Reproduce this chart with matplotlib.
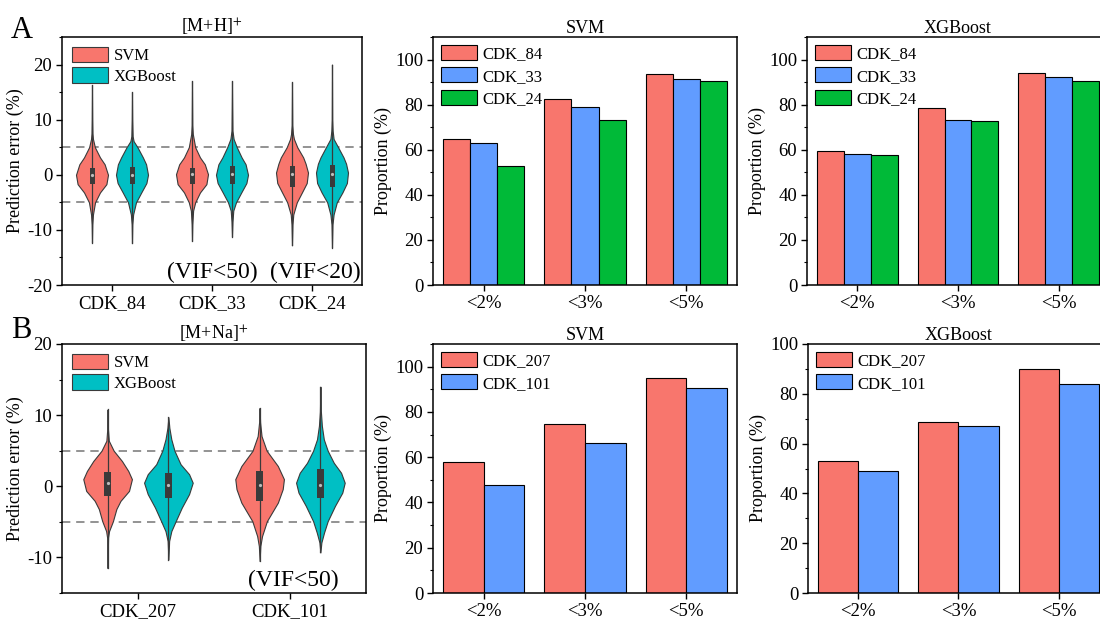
import numpy as np
import matplotlib
matplotlib.use("Agg")
import matplotlib.pyplot as plt
from matplotlib.patches import Patch, Rectangle
from matplotlib.ticker import MultipleLocator

plt.rcParams["font.family"] = ["Liberation Serif", "DejaVu Serif"]
plt.rcParams["mathtext.fontset"] = "stix"
plt.rcParams["font.size"] = 12
plt.rcParams["axes.unicode_minus"] = False

RED = "#F8766D"
BLUE = "#619CFF"
GREEN = "#00BA38"
CYAN = "#00BFC4"
DARK = "#3a3a3a"

# ---- violin data (value, relative half-width) ----
groups_A = ["CDK_84", "CDK_33", "CDK_24"]
groups_B = ["CDK_207", "CDK_101"]

svm_84 = [(-12.3, 0), (-9, 0.02), (-7.2, 0.06), (-5, 0.19), (-3.2, 0.5), (-1.7, 0.9), (0, 1.0),
          (1.9, 0.79), (3.15, 0.5), (5, 0.18), (6.5, 0.06), (7.5, 0.03), (10, 0.015), (16.3, 0)]
xgb_84 = [(-12.4, 0), (-9, 0.02), (-7.2, 0.07), (-5, 0.25), (-3.2, 0.58), (-1.5, 0.9), (0, 1.0),
          (1.9, 0.88), (3.15, 0.68), (5, 0.34), (6.1, 0.1), (7, 0.04), (10, 0.015), (15.0, 0)]
svm_33 = [(-12.0, 0), (-9, 0.02), (-6.5, 0.07), (-5, 0.2), (-3.2, 0.5), (-1.7, 0.9), (0.1, 1.0),
          (1.9, 0.8), (3.15, 0.5), (5, 0.2), (7.4, 0.05), (9, 0.02), (17.0, 0)]
xgb_33 = [(-11.2, 0), (-8.5, 0.03), (-6.5, 0.08), (-5, 0.25), (-3.2, 0.58), (-1.5, 0.9), (0, 1.0),
          (1.9, 0.85), (3.15, 0.6), (5, 0.3), (6.5, 0.1), (8, 0.03), (12, 0.015), (17.0, 0)]
svm_24 = [(-12.8, 0), (-9, 0.03), (-7.2, 0.08), (-5, 0.3), (-3.2, 0.62), (-1.5, 0.92), (0.4, 1.0),
          (2, 0.85), (3.15, 0.7), (5, 0.33), (6.5, 0.12), (7.4, 0.06), (9, 0.02), (16.8, 0)]
xgb_24 = [(-13.2, 0), (-9, 0.03), (-7.2, 0.1), (-5, 0.3), (-3.2, 0.65), (-1.5, 0.93), (0.4, 1.0),
          (2, 0.88), (3.15, 0.72), (5, 0.38), (6.5, 0.1), (8, 0.04), (10, 0.015), (20.0, 0)]

svm_207 = [(-11.5, 0), (-8, 0.015), (-7.2, 0.02), (-6.3, 0.06), (-4.9, 0.22), (-3.2, 0.36),
           (-2.05, 0.53), (-0.65, 0.88), (1.0, 1.0), (2.15, 0.85), (3.55, 0.59), (5, 0.25),
           (6.4, 0.05), (8, 0.015), (10.8, 0)]
xgb_207 = [(-10.3, 0), (-7.7, 0.03), (-6.3, 0.12), (-4.9, 0.3), (-3.0, 0.55), (-1.1, 0.85),
           (0.5, 1.0), (1.7, 0.85), (3.1, 0.5), (5, 0.25), (6.6, 0.12), (8.2, 0.04), (9.7, 0)]
svm_101 = [(-10.5, 0), (-8.4, 0.03), (-7, 0.1), (-4.9, 0.3), (-2.3, 0.75), (-0.4, 0.95),
           (1.0, 1.0), (2.85, 0.75), (5, 0.29), (7.05, 0.08), (9, 0.02), (11.0, 0)]
xgb_101 = [(-9.3, 0), (-7.9, 0.04), (-6.5, 0.15), (-4.9, 0.3), (-2.75, 0.6), (-0.9, 0.9),
           (0.5, 1.0), (1.9, 0.85), (3.3, 0.55), (5, 0.3), (6.6, 0.14), (8.5, 0.06),
           (10.5, 0.02), (14.0, 0)]

# box stats: (q1, median, q3)
box_A_svm = [(-1.7, 0.0, 1.3), (-1.7, 0.1, 1.3), (-2.2, 0.1, 1.6)]
box_A_xgb = [(-1.7, 0.0, 1.45), (-1.7, 0.1, 1.6), (-2.2, 0.1, 1.8)]
box_B_svm = [(-1.35, 0.5, 2.0), (-2.05, 0.2, 2.15)]
box_B_xgb = [(-1.6, 0.2, 1.9), (-1.7, 0.2, 2.5)]

# ---- bar data ----
bins = ["<2%", "<3%", "<5%"]
svm_A = {"CDK_84": [64.7, 82.7, 93.4], "CDK_33": [62.8, 79.0, 91.3], "CDK_24": [52.6, 73.0, 90.7]}
xgb_A = {"CDK_84": [59.5, 78.7, 94.2], "CDK_33": [58.3, 73.4, 92.3], "CDK_24": [57.8, 72.7, 90.5]}
svm_B = {"CDK_207": [58.0, 74.6, 95.1], "CDK_101": [47.6, 66.4, 90.7]}
xgb_B = {"CDK_207": [52.9, 68.5, 90.0], "CDK_101": [48.9, 66.9, 83.9]}

TICK_FS = 13.5
LAB_FS = 13
LEG_FS = 12

fig = plt.figure(figsize=(11, 6.26), dpi=100)
W, H = 1100, 626


def add_ax(l, r, t, b):
    return fig.add_axes([l / W, 1 - b / H, (r - l) / W, (b - t) / H])


def style(ax):
    for s in ax.spines.values():
        s.set_linewidth(1.1)
    ax.tick_params(axis="both", which="major", direction="out", length=4.5, width=1.0,
                   labelsize=TICK_FS, top=False, right=False, pad=2.5)
    ax.tick_params(axis="y", which="minor", direction="out", length=2.5, width=0.8)
    ax.tick_params(axis="x", which="minor", bottom=False)


def draw_violin(ax, pos, prof, box, color, half=0.16, bw=0.05):
    ys = np.array([p[0] for p in prof])
    ws = np.array([p[1] for p in prof]) * half
    ax.fill_betweenx(ys, pos - ws, pos + ws, facecolor=color, edgecolor=DARK, linewidth=0.8, zorder=2)
    ax.plot([pos, pos], [ys.min(), ys.max()], color=DARK, lw=0.9, zorder=3)
    q1, med, q3 = box
    ax.add_patch(Rectangle((pos - bw / 2, q1), bw, q3 - q1, facecolor=DARK, edgecolor="none", zorder=4))
    ax.plot(pos, med, "o", ms=1.3, color="#bbbbbb", zorder=5)


def violin_panel(ax, groups, svm_profiles, xgb_profiles, svm_box, xgb_box, ylim, title):
    for i in range(len(groups)):
        draw_violin(ax, i + 1 - 0.2, svm_profiles[i], svm_box[i], RED)
        draw_violin(ax, i + 1 + 0.2, xgb_profiles[i], xgb_box[i], CYAN)
    for v in (5, -5):
        ax.axhline(v, color="#808080", lw=1.2, ls=(0, (5, 3.5)), zorder=1)
    ax.set_xlim(0.5, len(groups) + 0.5)
    ax.set_ylim(*ylim)
    ax.set_xticks(range(1, len(groups) + 1))
    ax.set_xticklabels(groups)
    ax.yaxis.set_major_locator(MultipleLocator(10))
    ax.yaxis.set_minor_locator(MultipleLocator(5))
    ax.set_ylabel("Prediction error (%)", fontsize=LAB_FS, labelpad=2)
    ax.set_title(title, fontsize=LAB_FS, pad=3)
    style(ax)
    handles = [Patch(facecolor=RED, edgecolor=DARK, lw=0.8, label="SVM"),
               Patch(facecolor=CYAN, edgecolor=DARK, lw=0.8, label="XGBoost")]
    ax.legend(handles=handles, loc="upper left", frameon=False, fontsize=LEG_FS,
              handlelength=2.15, handleheight=1.05, labelspacing=0.18, handletextpad=0.35,
              borderaxespad=0.3, borderpad=0.3)


def bar_panel(ax, data, colors, ylim, title):
    n = len(data)
    w = 0.8 / n
    x = np.arange(len(bins))
    for k, (name, vals) in enumerate(data.items()):
        ax.bar(x - 0.4 + w * (k + 0.5), vals, width=w, color=colors[k], edgecolor="black",
               linewidth=0.8, label=name, zorder=2)
    ax.set_xlim(-0.5, 2.5)
    ax.set_ylim(*ylim)
    ax.set_xticks(x)
    ax.set_xticklabels(bins)
    ax.yaxis.set_major_locator(MultipleLocator(20))
    ax.yaxis.set_minor_locator(MultipleLocator(10))
    ax.set_ylabel("Proportion (%)", fontsize=LAB_FS, labelpad=2)
    ax.set_title(title, fontsize=LAB_FS, pad=3)
    style(ax)
    ax.legend(loc="upper left", frameon=False, fontsize=LEG_FS, handlelength=2.15,
              handleheight=1.0, labelspacing=0.3, handletextpad=0.3,
              borderaxespad=0.2, borderpad=0.3)


axA = add_ax(62, 362, 37, 285)
violin_panel(axA, groups_A, [svm_84, svm_33, svm_24], [xgb_84, xgb_33, xgb_24],
             box_A_svm, box_A_xgb, (-20, 25), "[M+H]$^{+}$")
axA.text(2.0, -19.7, "(VIF<50)", fontsize=17, ha="center", va="bottom")
axA.text(3.03, -19.7, "(VIF<20)", fontsize=17, ha="center", va="bottom")

axB = add_ax(62, 366, 344, 593)
violin_panel(axB, groups_B, [svm_207, svm_101], [xgb_207, xgb_101],
             box_B_svm, box_B_xgb, (-15, 20), "[M+Na]$^{+}$")
axB.text(2.02, -14.7, "(VIF<50)", fontsize=17, ha="center", va="bottom")

ax1 = add_ax(433, 737, 37, 285)
bar_panel(ax1, svm_A, [RED, BLUE, GREEN], (0, 110), "SVM")
ax2 = add_ax(807, 1109, 37, 285)
bar_panel(ax2, xgb_A, [RED, BLUE, GREEN], (0, 110), "XGBoost")
ax3 = add_ax(433, 737, 344, 593)
bar_panel(ax3, svm_B, [RED, BLUE], (0, 110), "SVM")
ax4 = add_ax(808, 1109, 344, 593)
bar_panel(ax4, xgb_B, [RED, BLUE], (0, 100), "XGBoost")

fig.text(11 / W, 1 - 30 / H, "A", fontsize=22, va="center", ha="left")
fig.text(11 / W, 1 - 330 / H, "B", fontsize=22, va="center", ha="left")

fig.savefig("out.png", dpi=100)
